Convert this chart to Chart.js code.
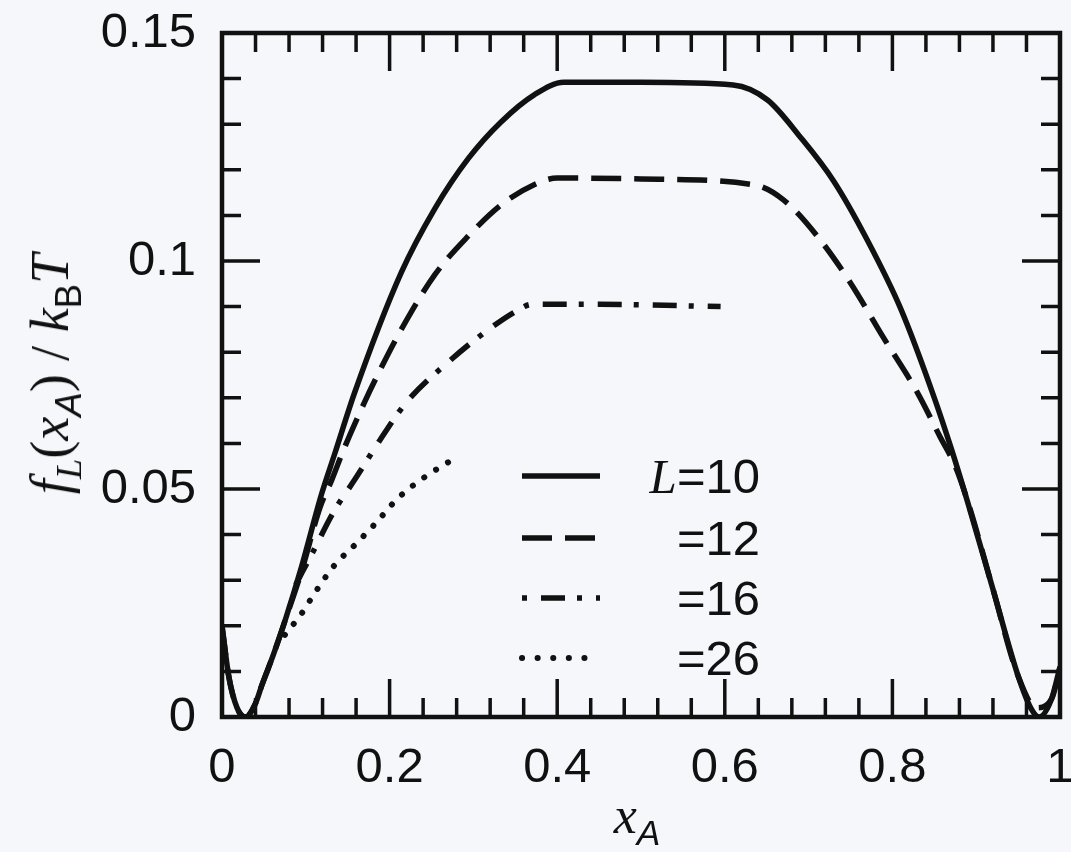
<!DOCTYPE html>
<html><head><meta charset="utf-8">
<script src="https://cdn.jsdelivr.net/npm/chart.js@4"></script>
<style>
html,body{margin:0;padding:0;overflow:hidden;background:#f6f7fb;}
#wrap{position:relative;width:1100px;height:852px;}
#c{position:absolute;left:0;top:0;}
.t{position:absolute;color:#111;white-space:nowrap;}
.serif{font-family:"Liberation Serif","DejaVu Serif",serif;}
.sans{font-family:"Liberation Sans",Arial,sans-serif;}
sub{font-size:0.68em;vertical-align:-0.35em;line-height:0;}
</style></head><body>
<div id="wrap">
<canvas id="c" width="1100" height="852" style="width:1100px;height:852px"></canvas>
<div class="t serif" id="ytitle" style="left:50px;top:374px;font-size:54px;transform:translate(-50%,-50%) rotate(-90deg);"><i>f</i><sub><i>L</i></sub>(<i>x</i><sub><i class="sans">A</i></sub>) / <i>k</i><sub class="sans">B</sub><i>T</i></div>
<div class="t serif" id="xtitle" style="left:637px;top:815px;font-size:52px;transform:translate(-50%,-50%);"><i>x</i><sub><i class="sans">A</i></sub></div>
<div id="legendText"></div>
</div>
<script>
// ---- data ----
const xL10 = [0, 0.008, 0.018, 0.028, 0.04, 0.048, 0.061, 0.075, 0.095, 0.119, 0.135, 0.158, 0.214, 0.254, 0.294, 0.333, 0.373, 0.408, 0.5, 0.61, 0.651, 0.69, 0.73, 0.77, 0.81, 0.85, 0.87, 0.89, 0.92, 0.95, 0.965, 0.975, 0.99, 1.0];
const yL10 = [0.02, 0.009, 0.002, 0.0, 0.003, 0.0072, 0.0135, 0.021, 0.033, 0.049, 0.058, 0.071, 0.0975, 0.1115, 0.1225, 0.1305, 0.1365, 0.1392, 0.1392, 0.1386, 0.1353, 0.1272, 0.1175, 0.1046, 0.0895, 0.070, 0.059, 0.047, 0.028, 0.009, 0.002, 0.0, 0.004, 0.011];

const xL12 = [0, 0.008, 0.018, 0.028, 0.04, 0.048, 0.061, 0.075, 0.095, 0.117, 0.131, 0.146, 0.17, 0.187, 0.214, 0.254, 0.294, 0.333, 0.373, 0.40, 0.5, 0.635, 0.67, 0.711, 0.75, 0.789, 0.83, 0.857, 0.875, 0.892, 0.92, 0.95, 0.972, 0.99, 1.0];
const yL12 = [0.02, 0.009, 0.002, 0.0, 0.003, 0.0072, 0.0135, 0.021, 0.032, 0.046, 0.052, 0.059, 0.069, 0.0755, 0.085, 0.097, 0.1055, 0.1123, 0.1168, 0.1182, 0.118, 0.1167, 0.1134, 0.1053, 0.0952, 0.0833, 0.0711, 0.0614, 0.055, 0.046, 0.028, 0.009, 0.002, 0.004, 0.011];

const xL16 = [0.088, 0.095, 0.108, 0.132, 0.160, 0.188, 0.22, 0.271, 0.311, 0.351, 0.37, 0.45, 0.595];
const yL16 = [0.029, 0.0315, 0.036, 0.0446, 0.0525, 0.0606, 0.069, 0.078, 0.084, 0.089, 0.0905, 0.0905, 0.090];

const xL26 = [0.075, 0.095, 0.11, 0.133, 0.16, 0.183, 0.21, 0.241, 0.276, 0.283];
const yL26 = [0.018, 0.0227, 0.027, 0.033, 0.038, 0.0424, 0.048, 0.0525, 0.0566, 0.0575];

const seriesLabels = ['=10', '=12', '=16', '=26'];
const xTickLabels = ['0', '0.2', '0.4', '0.6', '0.8', '1'];
const yTickLabels = ['0', '0.05', '0.1', '0.15'];

const INK = '#111';
const pts = (xs, ys) => xs.map((x, i) => ({x, y: ys[i]}));

const styles = [
  {borderWidth: 5.5, borderDash: [], borderCapStyle: 'butt', sampleOffset: 0},
  {borderWidth: 5.5, borderDash: [30, 13], borderCapStyle: 'butt', sampleOffset: 0},
  {borderWidth: 5.5, borderDash: [24, 12, 5, 14], borderCapStyle: 'butt', sampleOffset: 36},
  {borderWidth: 6, borderDash: [0.1, 14], borderCapStyle: 'round', sampleOffset: 0}
];
const rawSeries = [[xL10, yL10], [xL12, yL12], [xL16, yL16], [xL26, yL26]];
const datasets = rawSeries.map((s, i) => Object.assign({
  label: seriesLabels[i],
  data: pts(s[0], s[1]),
  borderColor: INK,
  pointRadius: 0,
  fill: false,
  cubicInterpolationMode: 'monotone'
}, styles[i]));

// frame + inward ticks on all four sides, placed through the scales
const frameTicks = {
  id: 'frameTicks',
  afterDatasetsDraw(chart) {
    const {ctx, chartArea: a, scales: {x, y}} = chart;
    ctx.save();
    ctx.strokeStyle = INK;
    ctx.lineWidth = 3.5;
    ctx.beginPath();
    for (let i = 0; i <= 25; i++) {
      const v = i * 0.04;
      const px = x.getPixelForValue(v);
      const len = (i % 5 === 0) ? 38 : 19;
      ctx.moveTo(px, a.bottom); ctx.lineTo(px, a.bottom - len);
      ctx.moveTo(px, a.top); ctx.lineTo(px, a.top + len);
    }
    for (let i = 0; i <= 15; i++) {
      const v = i * 0.01;
      const py = y.getPixelForValue(v);
      const len = (i % 5 === 0) ? 38 : 19;
      ctx.moveTo(a.left, py); ctx.lineTo(a.left + len, py);
      ctx.moveTo(a.right, py); ctx.lineTo(a.right - len, py);
    }
    ctx.stroke();
    ctx.lineWidth = 4.5;
    ctx.strokeRect(a.left, a.top, a.right - a.left, a.bottom - a.top);
    ctx.restore();
  }
};

// legend line samples inside the plot
const legendRows = [476, 538, 598, 658];
const legendSamples = {
  id: 'legendSamples',
  afterDatasetsDraw(chart) {
    const ctx = chart.ctx;
    ctx.save();
    chart.data.datasets.forEach((ds, i) => {
      ctx.strokeStyle = ds.borderColor;
      ctx.lineWidth = ds.borderWidth;
      ctx.setLineDash(i === 3 ? [0.1, 15.5] : ds.borderDash);
      ctx.lineDashOffset = ds.sampleOffset;
      ctx.lineCap = ds.borderCapStyle;
      ctx.beginPath();
      ctx.moveTo(522, legendRows[i]);
      ctx.lineTo(600, legendRows[i]);
      ctx.stroke();
    });
    ctx.restore();
  }
};

// legend texts as real HTML text
const lt = document.getElementById('legendText');
seriesLabels.forEach((s, i) => {
  const d = document.createElement('div');
  d.className = 't sans';
  d.style.cssText = 'right:340px;top:' + (legendRows[i] - 28) + 'px;font-size:49px;line-height:56px;';
  d.innerHTML = (i === 0 ? '<i class="serif">L</i>' : '') + s;
  lt.appendChild(d);
});

const xTickFont = {family: '"Liberation Sans", Arial, sans-serif', size: 49};
const yTickFont = {family: '"Liberation Sans", Arial, sans-serif', size: 49, lineHeight: 0.6};

new Chart(document.getElementById('c'), {
  type: 'line',
  data: {datasets},
  options: {
    responsive: false,
    animation: false,
    layout: {padding: {top: 33, right: 40, left: 0, bottom: 0}},
    plugins: {legend: {display: false}, tooltip: {enabled: false}},
    scales: {
      x: {
        type: 'linear', min: 0, max: 1,
        grid: {display: false},
        border: {display: false},
        afterFit: (s) => { s.height = 135; },
        afterBuildTicks: (s) => { s.ticks = xTickLabels.map(t => ({value: parseFloat(t)})); },
        ticks: {
          font: xTickFont, color: INK, padding: 14, maxRotation: 0, autoSkip: false,
          callback: (v, i) => xTickLabels[i]
        }
      },
      y: {
        type: 'linear', min: 0, max: 0.15,
        grid: {display: false},
        border: {display: false},
        afterFit: (s) => { s.width = 222; },
        afterBuildTicks: (s) => { s.ticks = yTickLabels.map(t => ({value: parseFloat(t)})); },
        ticks: {
          font: yTickFont, color: INK, padding: 18, autoSkip: false,
          callback: (v, i) => yTickLabels[i]
        }
      }
    }
  },
  plugins: [frameTicks, legendSamples]
});
</script>
</body></html>
